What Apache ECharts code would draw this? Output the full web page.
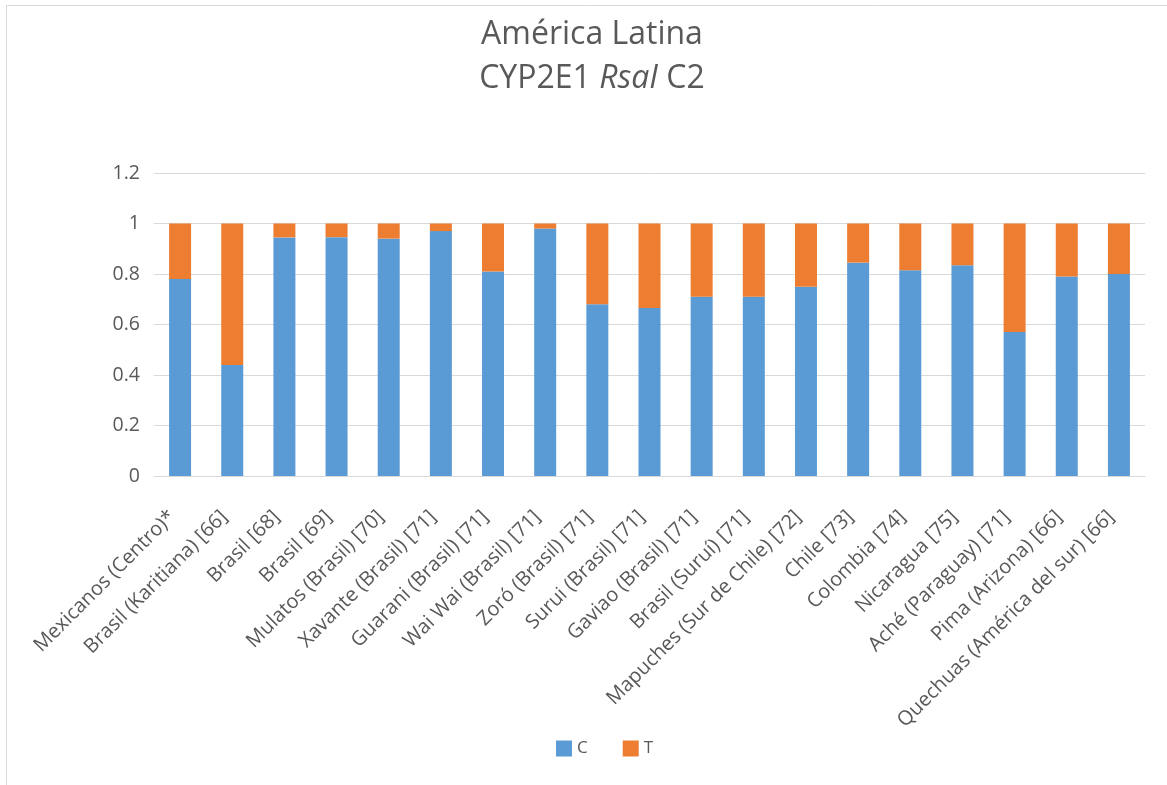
<!DOCTYPE html>
<html>
<head>
<meta charset="utf-8">
<script src="https://cdn.jsdelivr.net/npm/echarts@6/dist/echarts.min.js"></script>
<style>
  html, body { margin: 0; padding: 0; background: #fff; }
  #chart { width: 1167px; height: 785px; }
</style>
</head>
<body>
<div id="chart"></div>
<script>
// Populations studied for the CYP2E1 RsaI C2 polymorphism
const categories = [
  'Mexicanos (Centro)*', 'Brasil (Karitiana) [66]', 'Brasil [68]', 'Brasil [69]',
  'Mulatos (Brasil) [70]', 'Xavante (Brasil) [71]', 'Guarani (Brasil) [71]',
  'Wai Wai (Brasil) [71]', 'Zoró (Brasil) [71]', 'Surui (Brasil) [71]',
  'Gaviao (Brasil) [71]', 'Brasil (Suruí) [71]', 'Mapuches (Sur de Chile) [72]',
  'Chile [73]', 'Colombia [74]', 'Nicaragua [75]', 'Aché (Paraguay) [71]',
  'Pima (Arizona) [66]', 'Quechuas (América del sur) [66]'
];

// Allele frequencies
const cValues = [0.78, 0.44, 0.945, 0.946, 0.94, 0.97, 0.81, 0.98, 0.68, 0.665,
                 0.71, 0.71, 0.75, 0.845, 0.815, 0.835, 0.57, 0.79, 0.80];
const tValues = [0.22, 0.56, 0.055, 0.054, 0.06, 0.03, 0.19, 0.02, 0.32, 0.335,
                 0.29, 0.29, 0.25, 0.155, 0.185, 0.165, 0.43, 0.21, 0.20];

// Y axis ticks
const yTicks = { min: 0, max: 1.2, step: 0.2 };

const FONT = '"Open Sans", "Liberation Sans", sans-serif';
const TEXT = '#595959';

const chart = echarts.init(document.getElementById('chart'), null, { renderer: 'canvas' });

chart.setOption({
  backgroundColor: '#ffffff',
  animation: false,
  title: {
    left: 587,
    top: 8,
    textAlign: 'center',
    text: 'América Latina\n{n|CYP2E1 }{i|RsaI}{n| C2}',
    textStyle: {
      fontFamily: FONT,
      fontSize: 32,
      fontWeight: 'normal',
      color: TEXT,
      lineHeight: 44,
      align: 'center',
      rich: {
        n: { fontFamily: FONT, fontSize: 32, color: TEXT, lineHeight: 44 },
        i: { fontFamily: FONT, fontSize: 32, color: TEXT, lineHeight: 44, fontStyle: 'italic' }
      }
    }
  },
  graphic: [{
    type: 'rect',
    shape: { x: 6.5, y: 5.5, width: 1170, height: 790 },
    style: { fill: 'none', stroke: '#d9d9d9', lineWidth: 1 },
    silent: true,
    z: -1
  }],
  legend: {
    bottom: 23,
    left: 551,
    itemWidth: 16,
    itemHeight: 16,
    itemGap: 35,
    icon: 'rect',
    textStyle: { fontFamily: FONT, fontSize: 17, color: TEXT },
    data: ['C', 'T']
  },
  grid: {
    left: 154,
    right: 22,
    top: 173,
    bottom: 309,
    containLabel: false
  },
  xAxis: {
    type: 'category',
    data: categories,
    axisLine: { lineStyle: { color: '#d9d9d9', width: 1 } },
    axisTick: { show: false },
    axisLabel: {
      interval: 0,
      rotate: 45,
      margin: 30,
      padding: [0, 11, 0, 0],
      fontFamily: FONT,
      fontSize: 20,
      color: TEXT
    }
  },
  yAxis: {
    type: 'value',
    min: yTicks.min,
    max: yTicks.max,
    interval: yTicks.step,
    axisLine: { show: false },
    axisTick: { show: false },
    splitLine: { lineStyle: { color: '#d9d9d9', width: 1 } },
    axisLabel: {
      margin: 14,
      fontFamily: FONT,
      fontSize: 19.5,
      color: TEXT,
      formatter: v => String(parseFloat(v.toFixed(1)))
    }
  },
  series: [
    {
      name: 'C',
      type: 'bar',
      stack: 'freq',
      barWidth: 22,
      data: cValues,
      itemStyle: { color: '#5b9bd5' }
    },
    {
      name: 'T',
      type: 'bar',
      stack: 'freq',
      barWidth: 22,
      data: tValues,
      itemStyle: { color: '#ed7d31' }
    }
  ]
});
</script>
</body>
</html>
